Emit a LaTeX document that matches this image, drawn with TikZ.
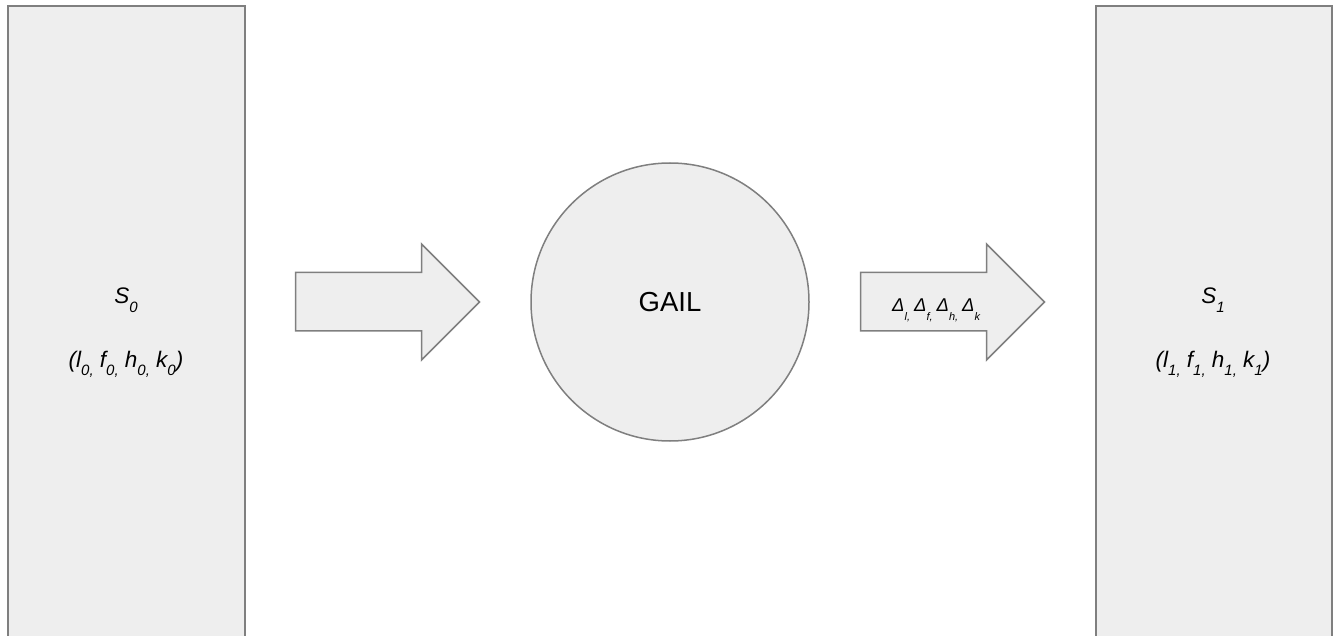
\documentclass[tikz,border=0pt]{standalone}
\usepackage{fontspec}
\setmainfont{Liberation Sans}
\definecolor{boxfill}{HTML}{EEEEEE}
\definecolor{boxline}{HTML}{7F7F7F}
\newcommand{\sbs}[1]{\raisebox{-0.75ex}{\fontsize{15}{15}\selectfont #1}}
\newcommand{\dsbs}[1]{\raisebox{-0.9ex}{\fontsize{11}{11}\selectfont #1}}
\begin{document}
\begin{tikzpicture}[x=1pt,y=-1pt,
  shapebox/.style={fill=boxfill,draw=boxline,line width=1.5pt},
  lbl/.style={font=\fontsize{22.5}{26}\selectfont\itshape,inner sep=0pt}]
\useasboundingbox (0,0) rectangle (1334,636);
% side boxes
\draw[shapebox] (8,6) rectangle (245,660);
\draw[shapebox] (1096,6) rectangle (1332,660);
\node[lbl,anchor=base] (s0) at (126,304) {S\sbs{0}};
\node[lbl,anchor=base] (t0) at (126,367) {(l\sbs{0,} f\sbs{0,} h\sbs{0,} k\sbs{0})};
\node[lbl,anchor=base] (s1) at (1213,304) {S\sbs{1}};
\node[lbl,anchor=base] (t1) at (1213,367) {(l\sbs{1,} f\sbs{1,} h\sbs{1,} k\sbs{1})};
% GAIL circle
\node[circle,shapebox,minimum size=278pt,inner sep=0pt,font=\fontsize{27.5}{30}\selectfont] (gail) at (670,302) {GAIL};
% arrows
\draw[shapebox,line join=miter] (295.5,272.5) -- (421.5,272.5) -- (421.5,244) -- (479.5,302) -- (421.5,360) -- (421.5,331) -- (295.5,331) -- cycle;
\draw[shapebox,line join=miter] (860.5,272.5) -- (986.5,272.5) -- (986.5,244) -- (1044.5,302) -- (986.5,360) -- (986.5,331) -- (860.5,331) -- cycle;
\node[font=\fontsize{18.5}{20}\selectfont\itshape,inner sep=0pt,anchor=base west] (delta) at (892,312) {Δ\dsbs{l,}\hspace{4pt}Δ\dsbs{f,}\hspace{4pt}Δ\dsbs{h,}\hspace{4pt}Δ\dsbs{k}};
\end{tikzpicture}
\end{document}
